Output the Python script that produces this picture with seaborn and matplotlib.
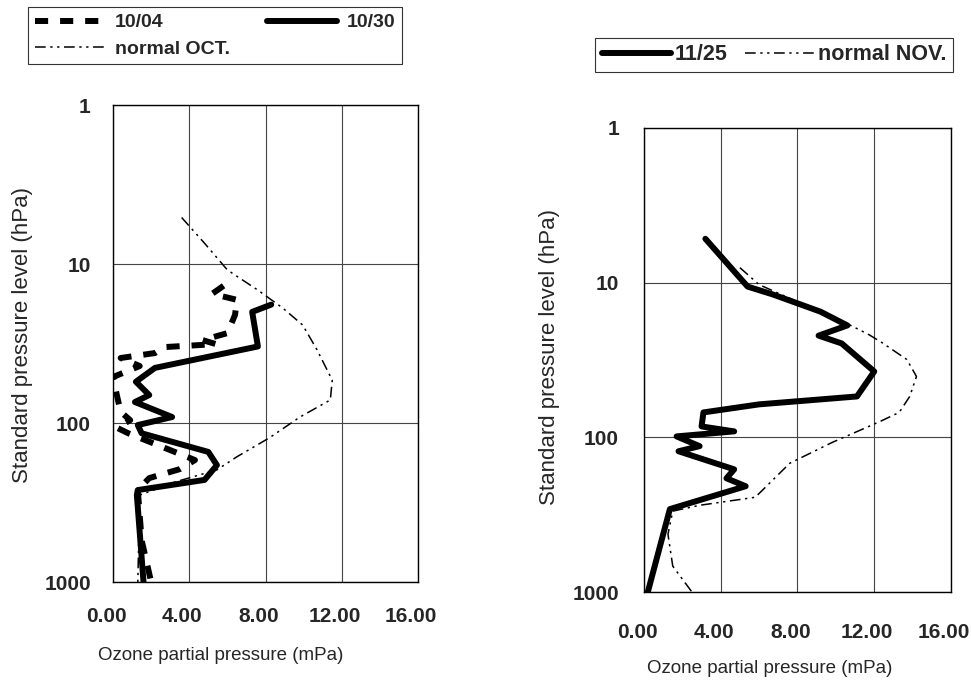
import matplotlib
matplotlib.use("Agg")
import matplotlib.pyplot as plt
from matplotlib.transforms import ScaledTranslation
import pandas as pd
import seaborn as sns

# ozone partial pressure (mPa) vs standard pressure level (hPa)
oct04_o3 = [5.8, 5.2, 6.5, 6.4, 6.0, 4.7, 5.4, 2.7, 2.2, 0.4, 1.4, 0.0,
            0.2, 0.4, 0.9, 0.2, 0.8, 4.3, 3.5, 1.9, 1.3, 1.5, 2.0]
oct04_p = [13.7, 15.4, 16.8, 20.9, 27.2, 30.1, 31.9, 33.3, 36.3, 39.0, 43.8, 51.4,
           66.7, 85, 96, 107, 116, 171, 195, 222, 264, 545, 1000]

oct30_o3 = [8.3, 7.3, 7.6, 2.2, 1.2, 1.9, 1.15, 3.1, 1.3, 1.5, 5.0, 5.45,
            4.8, 1.3, 1.25, 1.6]
oct30_p = [18, 20, 33, 45, 55, 66.7, 73.8, 91.7, 103, 116, 152, 184,
           228, 264, 284, 1000]

normal_oct_o3 = [3.6, 4.8, 6.0, 7.6, 8.9, 9.95, 10.7, 11.5, 11.4, 9.8, 8.2, 6.5,
                 5.45, 3.25, 1.4, 1.3]
normal_oct_p = [5.1, 7.4, 10.9, 14.6, 18.9, 24.2, 34.6, 53.8, 71.6, 91.8, 124, 163,
                197, 235, 284, 1000]

nov25_o3 = [3.2, 5.4, 6.7, 9.2, 10.6, 9.1, 10.3, 12.0, 11.1, 6.0, 3.1, 3.0,
            4.7, 1.7, 2.9, 1.8, 4.7, 4.3, 5.3, 1.35, 0.2]
nov25_p = [5.2, 10.6, 11.9, 15.4, 18.9, 22.0, 24.7, 37.5, 54.4, 61.2, 69, 85,
           91.5, 98.6, 114, 123, 161, 184, 207, 291, 1000]

normal_nov_o3 = [5.0, 6.0, 10.7, 11.7, 12.4, 13.7, 14.2, 13.85, 13.3, 12.3, 9.8, 7.6,
                 5.8, 2.9, 1.5, 1.25, 1.5, 2.5]
normal_nov_p = [8.0, 10.3, 18.7, 21.6, 24.4, 31.4, 40.4, 54.4, 69, 79, 108, 147,
                244, 275, 300, 423, 680, 1000]

x_ticks = [0, 4, 8, 12, 16]
x_labels = ['0.00', '4.00', '8.00', '12.00', '16.00']
y_ticks = [1, 10, 100, 1000]
y_labels = ['1', '10', '100', '1000']

sns.set_style("white")
plt.rcParams['font.family'] = ['Liberation Sans', 'DejaVu Sans']

thick = 4.3
thin = 1.1
dashdot = (0, (7, 3, 1.5, 3, 1.5, 3))


def profile(ax, o3, p, label, **kw):
    df = pd.DataFrame({'o3': o3, 'p': p})
    sns.lineplot(data=df, x='o3', y='p', sort=False, estimator=None,
                 color='black', label=label, ax=ax, legend=False, **kw)


def style_axis(ax, xpad, ypad):
    ax.set_yscale('log')
    ax.set_ylim(1000, 1)
    ax.set_xlim(0, 16)
    ax.set_xticks(x_ticks)
    ax.set_xticklabels(x_labels)
    ax.set_yticks(y_ticks)
    ax.set_yticklabels(y_labels)
    ax.minorticks_off()
    ax.tick_params(axis='x', length=0, pad=xpad, labelsize=15)
    ax.tick_params(axis='y', length=0, pad=ypad, labelsize=15)
    shift = ScaledTranslation(-0.07, 0, fig.dpi_scale_trans)
    for t in ax.get_xticklabels():
        t.set_fontweight('bold')
        t.set_transform(t.get_transform() + shift)
    for t in ax.get_yticklabels():
        t.set_fontweight('bold')
    ax.grid(True, color='#444444', linewidth=0.8)
    for s in ax.spines.values():
        s.set_color('black')
        s.set_linewidth(1.0)
    ax.set_xlabel('Ozone partial pressure (mPa)', fontsize=13.5)
    ax.set_ylabel('Standard pressure level (hPa)', fontsize=16)


fig = plt.figure(figsize=(9.71, 6.90), dpi=100)
ax1 = fig.add_axes([0.1164, 0.1565, 0.3141, 0.6913])
ax2 = fig.add_axes([0.6632, 0.1420, 0.3162, 0.6725])

# October panel
profile(ax1, normal_oct_o3, normal_oct_p, 'normal OCT.', linewidth=thin, linestyle=dashdot)
profile(ax1, oct04_o3, oct04_p, '10/04', linewidth=thick, linestyle=(0, (2.2, 2.0)))
profile(ax1, oct30_o3, oct30_p, '10/30', linewidth=thick)
style_axis(ax1, 18, 16)
ax1.xaxis.set_label_coords(0.354, -0.136)
ax1.yaxis.set_label_coords(-0.262, 0.518)

h = {l.get_label(): l for l in ax1.get_lines()}
leg1 = fig.legend([h['10/04'], h['normal OCT.'], h['10/30']],
                  ['10/04', 'normal OCT.', '10/30'],
                  ncol=2, loc='upper left', bbox_to_anchor=(0.029, 0.99),
                  borderaxespad=0,
                  frameon=True, fancybox=False, edgecolor='black',
                  fontsize=14, handlelength=3.6, handletextpad=0.5,
                  columnspacing=1.9, borderpad=0.35, labelspacing=0.45)
leg1.get_frame().set_linewidth(0.8)
for t in leg1.get_texts():
    t.set_fontweight('bold')

# November panel
profile(ax2, normal_nov_o3, normal_nov_p, 'normal NOV.', linewidth=thin, linestyle=dashdot)
profile(ax2, nov25_o3, nov25_p, '11/25', linewidth=thick)
style_axis(ax2, 22, 18)
ax2.xaxis.set_label_coords(0.41, -0.147)
ax2.yaxis.set_label_coords(-0.274, 0.506)

h2 = {l.get_label(): l for l in ax2.get_lines()}
leg2 = fig.legend([h2['11/25'], h2['normal NOV.']], ['11/25', 'normal NOV.'],
                  ncol=2, loc='upper left', bbox_to_anchor=(0.613, 0.945),
                  borderaxespad=0,
                  frameon=True, fancybox=False, edgecolor='black',
                  fontsize=15.5, handlelength=3.2, handletextpad=0.2,
                  columnspacing=0.8, borderpad=0.3)
leg2.get_frame().set_linewidth(0.8)
for t in leg2.get_texts():
    t.set_fontweight('bold')

fig.savefig('out.png', dpi=100)
